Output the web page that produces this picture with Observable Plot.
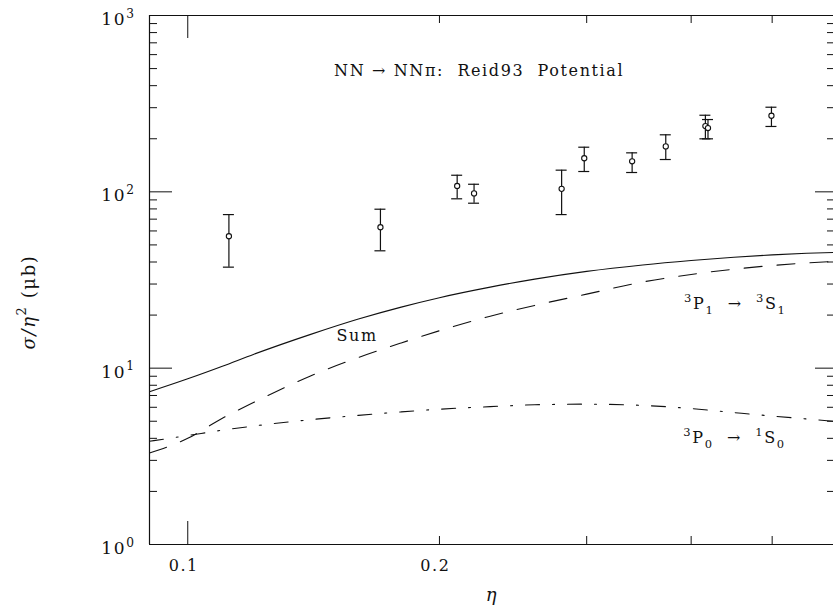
<!DOCTYPE html>
<html><head><meta charset="utf-8">
<script src="https://cdn.jsdelivr.net/npm/d3@7"></script>
<script src="https://cdn.jsdelivr.net/npm/@observablehq/plot@0.6"></script>
<style>html,body{margin:0;padding:0;background:#fff}svg{display:block}</style>
</head><body><div id="chart"></div>
<script>
// ---- data ----
const pointEta   = [0.112, 0.170, 0.210, 0.220, 0.280, 0.298, 0.340, 0.373, 0.416, 0.419, 0.499];
const pointSigma = [56, 63, 108, 98, 104, 155, 149, 181, 236, 230, 270];
const pointLow   = [37.4, 46.3, 91.3, 86.2, 74.3, 130.4, 128.7, 152.5, 199.8, 199.8, 234.8];
const pointHigh  = [74.3, 79.7, 124.2, 110.4, 132.7, 179.1, 166.4, 210.6, 271.9, 257.0, 301.9];

const curveEta  = [0.09, 0.10, 0.11, 0.12, 0.14, 0.16, 0.18, 0.20, 0.23, 0.26, 0.30, 0.35, 0.40, 0.45, 0.50, 0.55, 0.592];
const sumCurve  = [7.35, 8.7, 10.25, 12.0, 15.5, 19.0, 22.2, 25.1, 28.8, 32.0, 35.4, 38.5, 40.8, 42.6, 43.9, 44.8, 45.3];
const p1s1Curve = [3.3, 4.0, 5.2, 6.4, 9.0, 11.5, 13.9, 16.3, 19.7, 22.7, 26.3, 30.8, 34.0, 36.4, 38.2, 39.5, 40.3];
const p0s0Curve = [3.85, 4.15, 4.45, 4.7, 5.1, 5.4, 5.65, 5.85, 6.05, 6.2, 6.25, 6.15, 5.9, 5.6, 5.35, 5.15, 5.0];

const yMajor = [1, 10, 100, 1000];
const yMajorLabels = ["10^{0}", "10^{1}", "10^{2}", "10^{3}"];
const yMinor = [2,3,4,5,6,7,8,9,20,30,40,50,60,70,80,90,200,300,400,500,600,700,800,900];
const xMajor = [0.1];
const xMinor = [0.2, 0.3, 0.4, 0.5];
const xLabelValues = [0.1, 0.2];
const xLabelTexts = ["0.1", "0.2"];

const xDomain = [0.09, 0.592];
const yDomain = [1, 1000];

const annotations = [
  {eta: 0.2231, v: 483, text: "NN → NNπ:  Reid93  Potential"},
  {eta: 0.1594, v: 15.3, text: "Sum"},
  {eta: 0.4517, v: 23.2, text: "^{3}P_{1}  →  ^{3}S_{1}"},
  {eta: 0.4508, v: 4.04, text: "^{3}P_{0}  →  ^{1}S_{0}"}
];

// ---- tables built from arrays ----
const points = pointEta.map((e, i) => ({eta: e, sigma: pointSigma[i], lo: pointLow[i], hi: pointHigh[i]}));
const curveRows = (vals) => curveEta.map((e, i) => ({eta: e, v: vals[i]}));

const W = 833, H = 609, mL = 149, mR = 0, mT = 15, mB = 65;
const fw = W - mL - mR, fh = H - mT - mB;
const ink = "#111";

const plot = Plot.plot({
  width: W, height: H,
  marginLeft: mL, marginRight: mR, marginTop: mT, marginBottom: mB,
  x: {type: "log", domain: xDomain, axis: null},
  y: {type: "log", domain: yDomain, axis: null},
  style: {fontFamily: "DejaVu Serif", fontSize: "16px", background: "#fff", color: ink, letterSpacing: "1.6px"},
  marks: [
    // frame (left, bottom, top)
    Plot.ruleX([xDomain[0]], {stroke: ink, strokeWidth: 1.2}),
    Plot.ruleY(yDomain, {stroke: ink, strokeWidth: 1.2}),
    // y ticks left / right
    Plot.tickY(yMajor, {insetRight: fw - 23, stroke: ink}),
    Plot.tickY(yMinor, {insetRight: fw - 8, stroke: ink}),
    Plot.tickY(yMajor, {insetLeft: fw - 18, stroke: ink}),
    Plot.tickY(yMinor, {insetLeft: fw - 6, stroke: ink}),
    // x ticks bottom / top
    Plot.tickX(xMajor, {insetTop: fh - 23, stroke: ink}),
    Plot.tickX(xMajor, {insetBottom: fh - 23, stroke: ink}),
    Plot.tickX(xMinor, {insetTop: fh - 8, stroke: ink}),
    Plot.tickX(xMinor, {insetBottom: fh - 8, stroke: ink}),
    // tick labels
    Plot.text(yMajor, {x: xDomain[0], y: d => d, text: (d, i) => yMajorLabels[i], textAnchor: "end", dx: -14, dy: 4, fontSize: 17, fill: ink}),
    Plot.text(xLabelValues, {x: d => d, y: yDomain[0], text: (d, i) => xLabelTexts[i], dy: 21, dx: -4, fontSize: 16, fill: ink}),
    // curves
    Plot.line(curveRows(sumCurve), {x: "eta", y: "v", curve: "monotone-x", stroke: ink, strokeWidth: 1.1}),
    Plot.line(curveRows(p1s1Curve), {x: "eta", y: "v", curve: "monotone-x", stroke: ink, strokeWidth: 1.1, strokeDasharray: "18,15"}),
    Plot.line(curveRows(p0s0Curve), {x: "eta", y: "v", curve: "monotone-x", stroke: ink, strokeWidth: 1.1, strokeDasharray: "14,13,2,13"}),
    // error bars
    Plot.ruleX(points, {x: "eta", y1: "lo", y2: "hi", stroke: ink, strokeWidth: 1.2}),
    Plot.ruleY(points, {x1: "eta", x2: "eta", y: "lo", insetLeft: -5.5, insetRight: -5.5, stroke: ink, strokeWidth: 1.2}),
    Plot.ruleY(points, {x1: "eta", x2: "eta", y: "hi", insetLeft: -5.5, insetRight: -5.5, stroke: ink, strokeWidth: 1.2}),
    Plot.dot(points, {x: "eta", y: "sigma", r: 2.6, stroke: ink, fill: "white", strokeWidth: 1.1}),
    // annotations
    Plot.text(annotations, {x: "eta", y: "v", text: "text", fontSize: 16, fill: ink})
  ]
});

const holder = document.getElementById("chart");
holder.style.width = W + "px";
holder.appendChild(plot);

// axis titles as real text in the svg
const svgNS = "http://www.w3.org/2000/svg";
function addText(str, x, y, opts = {}) {
  const t = document.createElementNS(svgNS, "text");
  t.setAttribute("x", x); t.setAttribute("y", y);
  t.setAttribute("text-anchor", "middle");
  t.setAttribute("dominant-baseline", "middle");
  t.setAttribute("fill", ink);
  t.setAttribute("font-size", opts.size || 16);
  if (opts.rotate) t.setAttribute("transform", `rotate(-90 ${x} ${y})`);
  t.textContent = str;
  plot.appendChild(t);
  return t;
}
addText("η", 492, 596, {size: 18}).setAttribute("font-style", "italic");
addText("σ/η^{2} (μb)", 30, 302, {size: 18, rotate: true});

// superscripts / subscripts
function richify(el) {
  const s = el.textContent;
  if (!/[\^_]\{/.test(s)) return;
  const fs = parseFloat(getComputedStyle(el).fontSize) || 16;
  el.textContent = "";
  const parts = s.split(/([\^_]\{[^}]*\})/).filter(p => p.length);
  let cur = 0;
  for (const p of parts) {
    const t = document.createElementNS(svgNS, "tspan");
    let target = 0, txt = p, small = false;
    if (p.startsWith("^{")) { target = -0.42 * fs; txt = p.slice(2, -1); small = true; }
    else if (p.startsWith("_{")) { target = 0.32 * fs; txt = p.slice(2, -1); small = true; }
    t.setAttribute("dy", (target - cur).toFixed(2));
    if (small) t.setAttribute("font-size", (0.72 * fs).toFixed(1));
    t.textContent = txt;
    el.appendChild(t);
    cur = target;
  }
}
plot.querySelectorAll("text").forEach(richify);
plot.querySelectorAll("text").forEach(el => {
  if (el.textContent === "σ/η2 (μb)") el.querySelectorAll("tspan").forEach((ts, i) => { if (i === 0) ts.setAttribute("font-style", "italic"); });
});
</script>
</body></html>
